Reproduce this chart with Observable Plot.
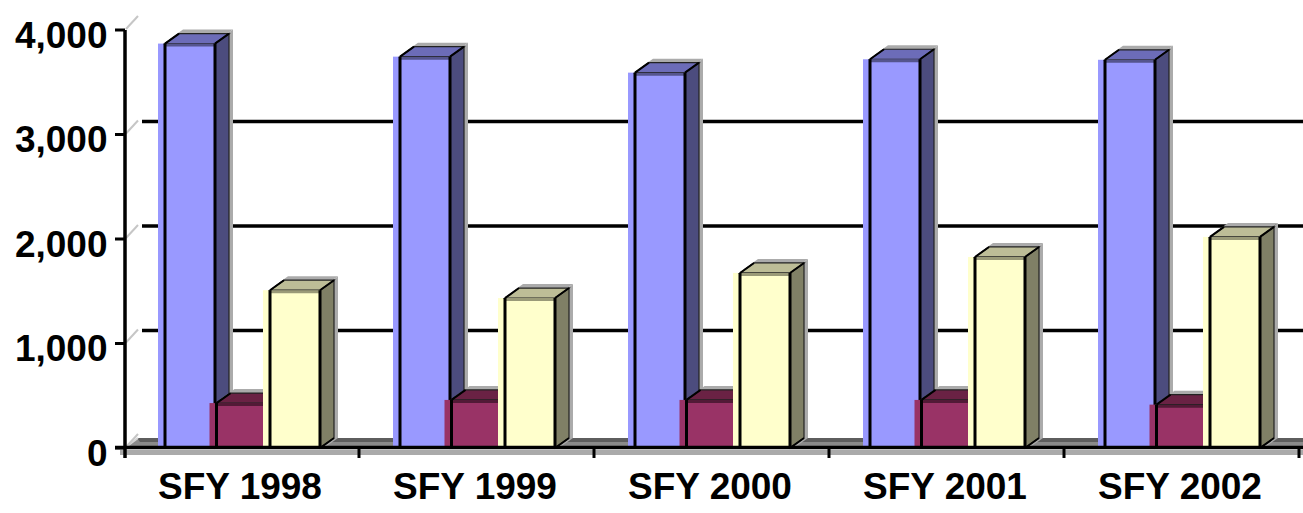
<!DOCTYPE html>
<html>
<head>
<meta charset="utf-8">
<script src="https://cdn.jsdelivr.net/npm/d3@7"></script>
<script src="https://cdn.jsdelivr.net/npm/@observablehq/plot@0.6"></script>
<style>
  html, body { margin: 0; padding: 0; background: #ffffff; }
  #chart { width: 1303px; height: 513px; overflow: hidden; }
</style>
</head>
<body>
<div id="chart"></div>
<script>
// ---------- data ----------
const categories = ["SFY 1998", "SFY 1999", "SFY 2000", "SFY 2001", "SFY 2002"];
const blueValues = [3870, 3745, 3592, 3720, 3715];
const maroonValues = [430, 460, 460, 460, 415];
const yellowValues = [1510, 1435, 1675, 1828, 2020];
const yTicks = [0, 1000, 2000, 3000, 4000];
const gridTicks = [1000, 2000, 3000];

// ---------- styling ----------
const W = 1303, H = 513;
const DX = 14, DY = -10, SH = 4;       // 3D depth offsets (px)
const BAR_W = 57, INSET = 7;           // front face width, outline inset
const GRID_DX = 18, GRID_DY = -13;     // back-wall offsets

const seriesStyles = [
  {values: blueValues,   offset: 34,   front: "#9999ff", top: "#6c6cb8", edge: "#55558e", side: "#4c4c7e"},
  {values: maroonValues, offset: 85.5, front: "#993366", top: "#6a2244", edge: "#521a36", side: "#4c1933"},
  {values: yellowValues, offset: 139,  front: "#ffffcc", top: "#bdbd97", edge: "#9a9a78", side: "#808066"}
];

const rowsFor = (vals) => categories.map((c, i) => ({category: c, value: vals[i]}));

const poly = (pts) => "M" + pts.map(p => p.join(",")).join("L") + "Z";
const bw = (X) => typeof X.bandwidth === "function" ? X.bandwidth() : X.bandwidth;

// floor + back-wall gridlines
function backdrop(index, scales) {
  const X = scales.x, Y = scales.y;
  const g = d3.create("svg:g");
  const x0 = X(categories[0]);
  const y0 = Y(0);
  g.append("path").attr("d", poly([[x0, y0], [x0 + DX, y0 + DY], [W, y0 + DY], [W, y0]])).attr("fill", "#8a8a8a");
  g.append("path").attr("d", poly([[x0 + DX - 1, y0 + DY], [x0 + DX + 2, y0 + DY + 4], [W, y0 + DY + 4], [W, y0 + DY]])).attr("fill", "#5e5e5e");
  g.append("line").attr("x1", x0 + 2).attr("y1", y0 - 1).attr("x2", x0 + DX).attr("y2", y0 + DY)
    .attr("stroke", "#d4d4d4").attr("stroke-width", 2);
  for (const v of gridTicks) {
    g.append("line").attr("x1", x0 + GRID_DX).attr("x2", W)
      .attr("y1", Y(v) + GRID_DY).attr("y2", Y(v) + GRID_DY)
      .attr("stroke", "#000").attr("stroke-width", 3.5);
  }
  for (const v of yTicks) {
    g.append("line").attr("x1", x0 + 2).attr("y1", Y(v) - 1).attr("x2", x0 + 14).attr("y2", Y(v) - 14)
      .attr("stroke", "#c6c6c6").attr("stroke-width", 2);
  }
  return g.node();
}

// side, top, shadow and outlines of a series
function faces(st) {
  const rows = rowsFor(st.values);
  return (index, scales) => {
    const X = scales.x, Y = scales.y;
    const g = d3.create("svg:g");
    for (const r of rows) {
      const x0 = X(r.category) + st.offset, x1 = x0 + BAR_W, xl = x0 + INSET;
      const y0 = Y(0), yt = Y(r.value);
      // soft gray shadow (top + side silhouette shifted up-right)
      g.append("path").attr("d", poly([[xl + SH, yt - SH], [xl + DX + SH, yt + DY - SH], [x1 + DX + SH, yt + DY - SH], [x1 + SH, yt - SH]]))
        .attr("fill", "#ababab");
      g.append("path").attr("d", poly([[x1 + SH, yt - SH], [x1 + DX + SH, yt + DY - SH], [x1 + DX + SH, y0 + DY], [x1 + SH, y0]]))
        .attr("fill", "#ababab");
      // side face
      g.append("path").attr("d", poly([[x1, yt], [x1 + DX, yt + DY], [x1 + DX, y0 + DY], [x1, y0]]))
        .attr("fill", st.side).attr("stroke", "#222").attr("stroke-width", 1.2);
      // top face
      g.append("path").attr("d", poly([[xl, yt], [xl + DX, yt + DY], [x1 + DX, yt + DY], [x1, yt]]))
        .attr("fill", st.top).attr("stroke", "#222").attr("stroke-width", 1.2);
      // front top edge
      g.append("line").attr("x1", xl).attr("x2", x1).attr("y1", yt + 1.5).attr("y2", yt + 1.5)
        .attr("stroke", st.edge).attr("stroke-width", 3);
      // front outline (left / right)
      g.append("path").attr("d", `M${xl},${y0}V${yt}M${x1},${yt}V${y0}`)
        .attr("stroke", "#000").attr("stroke-width", 3).attr("fill", "none");
      // diagonal corner edges
      g.append("path").attr("d", `M${xl},${yt}L${xl + DX},${yt + DY}M${x1},${yt}L${x1 + DX},${yt + DY}M${x1},${y0}L${x1 + DX},${y0 + DY}`)
        .attr("stroke", "#000").attr("stroke-width", 2).attr("fill", "none");
    }
    return g.node();
  };
}

// axes drawn on top
function axes(index, scales) {
  const X = scales.x, Y = scales.y;
  const g = d3.create("svg:g");
  const x0 = X(categories[0]);
  const y0 = Y(0);
  const xEnd = X(categories[categories.length - 1]) + bw(X);
  g.append("rect").attr("x", x0 - 4).attr("y", y0 + 2).attr("width", W - x0 + 4).attr("height", 5).attr("fill", "#aaaaaa");
  g.append("line").attr("x1", x0 - 9).attr("x2", W).attr("y1", y0 - 0.5).attr("y2", y0 - 0.5)
    .attr("stroke", "#000").attr("stroke-width", 3.5);
  g.append("line").attr("x1", x0 + 1).attr("x2", x0 + 1).attr("y1", Y(4000)).attr("y2", y0 + 10)
    .attr("stroke", "#000").attr("stroke-width", 3.5);
  for (const v of yTicks) {
    g.append("line").attr("x1", x0 - 9).attr("x2", x0 + 1).attr("y1", Y(v)).attr("y2", Y(v))
      .attr("stroke", "#000").attr("stroke-width", 3);
  }
  const bounds = categories.slice(1).map(c => X(c)).concat([xEnd]);
  for (const bx of bounds) {
    g.append("line").attr("x1", bx).attr("x2", bx).attr("y1", y0).attr("y2", y0 + 10)
      .attr("stroke", "#000").attr("stroke-width", 3);
  }
  return g.node();
}

const marks = [backdrop];
for (const st of seriesStyles) {
  marks.push(Plot.barY(rowsFor(st.values), {
    x: "category", y: "value", fill: st.front,
    insetLeft: st.offset, insetRight: (1177 / 5) - st.offset - BAR_W
  }));
  marks.push(faces(st));
}
marks.push(axes);
marks.push(Plot.text(yTicks, {
  y: d => d, text: d => d3.format(",")(d), frameAnchor: "left",
  textAnchor: "end", dx: -16, dy: 5.5, fill: "#000"
}));
marks.push(Plot.text(categories, {
  x: d => d, text: d => d, frameAnchor: "bottom", dy: 50, dx: -2, fill: "#000"
}));

const chart = Plot.plot({
  width: W,
  height: H,
  marginLeft: 123,
  marginRight: 3,
  marginTop: 30,
  marginBottom: 65,
  x: {type: "band", domain: categories, paddingInner: 0, paddingOuter: 0, axis: null},
  y: {domain: [0, 4000], axis: null},
  style: {
    background: "#ffffff",
    fontFamily: "'Liberation Sans', Arial, sans-serif",
    fontSize: "37px",
    fontWeight: "bold",
    color: "#000",
    overflow: "visible"
  },
  marks
});
document.getElementById("chart").appendChild(chart);
</script>
</body>
</html>
